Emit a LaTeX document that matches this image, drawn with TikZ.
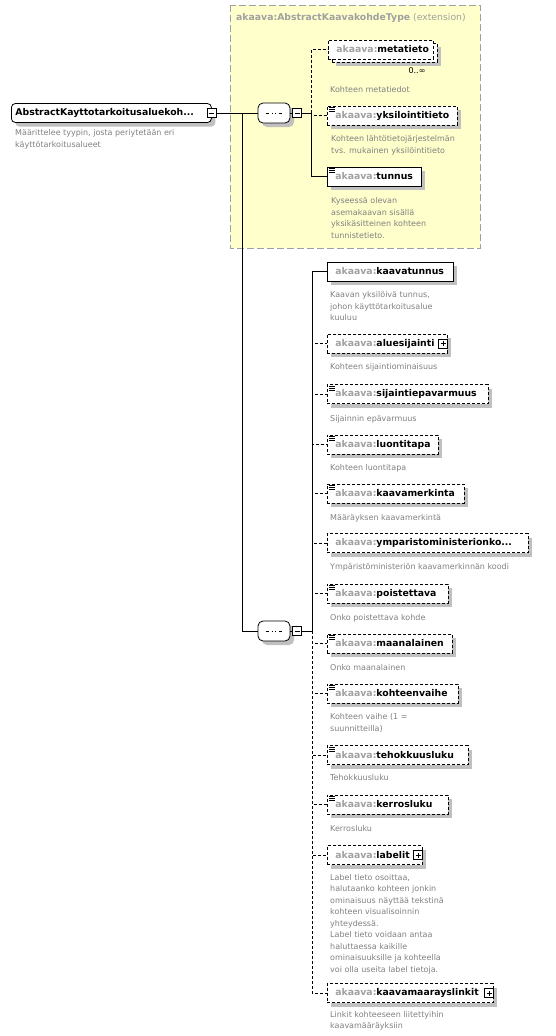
\documentclass[tikz,border=0pt]{standalone}
\usepackage{fontspec}
\setmainfont{DejaVu Sans}
\usetikzlibrary{shadows}
\definecolor{extfill}{HTML}{FFFFCC}
\definecolor{extline}{HTML}{A0A0A0}
\definecolor{pfxgray}{HTML}{A0A0A0}
\definecolor{descgray}{HTML}{808080}
\definecolor{shadowgray}{HTML}{C0C0C0}
\newcommand{\ak}[1]{\mbox{\textcolor{pfxgray}{akaava:}#1}}

\begin{document}
\begin{tikzpicture}[x=1pt,y=-1pt,
  link/.style={line width=.8pt},
  opt/.style={dash pattern=on 3pt off 2pt},
  elem/.style={draw,line width=.8pt,fill=white,anchor=west,minimum height=19pt,
    inner xsep=8pt,inner ysep=0pt,align=left,font=\bfseries\fontsize{9.3}{11}\selectfont},
  shadowed/.style={drop shadow={shadow xshift=4pt,shadow yshift=-4pt,fill=shadowgray,opacity=1}},
  simple/.style={path picture={\foreach \k in {1.5,3.5,5.5}
    \draw[solid,line width=.6pt] ([shift={(2pt,-\k pt)}]path picture bounding box.north west) -- ++(6pt,0pt);}},
  pmbox/.style={draw,solid,fill=white,line width=.8pt,minimum size=9pt,inner sep=0pt},
  minus/.style={path picture={\draw[line width=.8pt] ([xshift=2pt]path picture bounding box.west) -- ([xshift=-2pt]path picture bounding box.east);}},
  plus/.style={path picture={\draw[line width=.8pt] ([xshift=2pt]path picture bounding box.west) -- ([xshift=-2pt]path picture bounding box.east)
    ([yshift=2pt]path picture bounding box.south) -- ([yshift=-2pt]path picture bounding box.north);}},
  seqbox/.style={draw,fill=white,line width=.8pt,rounded corners=5pt,minimum width=32pt,minimum height=20pt,inner sep=0pt,shadowed,
    path picture={\draw[sharp corners,line width=1pt] ([xshift=-8pt]path picture bounding box.center) -- ([xshift=8pt]path picture bounding box.center);
      \foreach \dx in {-3.5,0,3.5} \fill[sharp corners] ([xshift=\dx pt]path picture bounding box.center) +(-1.4pt,-1.3pt) rectangle +(1.4pt,1.3pt);}},
  desc/.style={anchor=north west,inner sep=0pt,align=left,text=descgray,font=\fontsize{8}{11.5}\selectfont}
]
\useasboundingbox (0,0) rectangle (556,1036);

% extension frame
\draw[extline,fill=extfill,line width=.8pt,dash pattern=on 7pt off 3pt] (230,5) rectangle (480,248);
\node[anchor=west,inner sep=0pt,text=pfxgray,font=\fontsize{9.3}{11}\selectfont] (exttitle) at (236,18)
  {\textbf{akaava:AbstractKaavakohdeType} (extension)};

% root and sequences
\node[elem,shadowed,rounded corners=4pt,inner xsep=4pt,text width=192pt] (root) at (11,113) {\mbox{AbstractKayttotarkoitusaluekoh...}};
\node[pmbox,minus] (rootpm) at (root.east) {};
\node[desc] (d-root) at (15,129.7) {Määrittelee tyypin, josta periytetään eri\\käyttötarkoitusalueet};

\node[seqbox] (seq1) at (274,113) {};
\node[pmbox,minus,anchor=west] (seq1pm) at ([xshift=2pt]seq1.east) {};
\node[seqbox] (seq2) at (274,631) {};
\node[pmbox,minus,anchor=west] (seq2pm) at ([xshift=2pt]seq2.east) {};

\coordinate (trunk) at (242,113);
\coordinate (br1) at (311,113);
\coordinate (br2) at (312,631);

% inherited elements
\node[elem,opt,shadowed,text width=89pt] (metaback) at (332,52.5) {};
\node[elem,opt,text width=89pt] (metatieto) at (328,49.5) {\ak{metatieto}};
\node[inner sep=0pt,font=\fontsize{8}{10}\selectfont] (meta-occ) at (417,71) {0..∞};
\node[desc] (d-metatieto) at (330,86.7) {Kohteen metatiedot};

\node[elem,opt,shadowed,simple,text width=114pt] (yksilointitieto) at (327,115.5) {\ak{yksilointitieto}};
\node[desc] (d-yksilointitieto) at (331,135.7) {Kohteen lähtötietojärjestelmän\\ tvs. mukainen yksilöintitieto};

\node[elem,shadowed,simple,text width=78pt] (tunnus) at (327,176.5) {\ak{tunnus}};
\node[desc] (d-tunnus) at (331,197.7) {Kyseessä olevan\\asemakaavan sisällä\\yksikäsitteinen kohteen\\tunnistetieto.};

% own elements
\node[elem,shadowed,text width=110pt] (kaavatunnus) at (327,271.5) {\ak{kaavatunnus}};
\node[desc] (d-kaavatunnus) at (330,291.7) {Kaavan yksilöivä tunnus,\\johon käyttötarkoitusalue\\kuuluu};

\node[elem,opt,shadowed,text width=104pt] (aluesijainti) at (327,343.5) {\ak{aluesijainti}};
\node[pmbox,plus] (aluesijainti-pm) at ([xshift=-4.5pt]aluesijainti.east) {};
\node[desc] (d-aluesijainti) at (330,363.7) {Kohteen sijaintiominaisuus};

\node[elem,opt,shadowed,simple,text width=145pt] (sijaintiepavarmuus) at (327,394) {\ak{sijaintiepavarmuus}};
\node[desc] (d-sijaintiepavarmuus) at (330,415.7) {Sijainnin epävarmuus};

\node[elem,opt,shadowed,simple,text width=95pt] (luontitapa) at (327,444.5) {\ak{luontitapa}};
\node[desc] (d-luontitapa) at (330,464.7) {Kohteen luontitapa};

\node[elem,opt,shadowed,simple,text width=121pt] (kaavamerkinta) at (327,493.5) {\ak{kaavamerkinta}};
\node[desc] (d-kaavamerkinta) at (330,514.7) {Määräyksen kaavamerkintä};

\node[elem,opt,shadowed,text width=185pt] (ymparistoministerionkoodi) at (327,543) {\ak{ymparistoministerionko...}};
\node[desc] (d-ymparistoministerionkoodi) at (330,563.7) {Ympäristöministeriön kaavamerkinnän koodi};

\node[elem,opt,shadowed,simple,text width=105pt] (poistettava) at (327,593.5) {\ak{poistettava}};
\node[desc] (d-poistettava) at (330,614.7) {Onko poistettava kohde};

\node[elem,opt,shadowed,simple,text width=109pt] (maanalainen) at (327,643.5) {\ak{maanalainen}};
\node[desc] (d-maanalainen) at (330,664.7) {Onko maanalainen};

\node[elem,opt,shadowed,simple,text width=115pt] (kohteenvaihe) at (327,693.5) {\ak{kohteenvaihe}};
\node[desc] (d-kohteenvaihe) at (330,713.7) {Kohteen vaihe (1 =\\suunnitteilla)};

\node[elem,opt,shadowed,simple,text width=125pt] (tehokkuusluku) at (327,755) {\ak{tehokkuusluku}};
\node[desc] (d-tehokkuusluku) at (330,774.7) {Tehokkuusluku};

\node[elem,opt,shadowed,simple,text width=105pt] (kerrosluku) at (327,804.5) {\ak{kerrosluku}};
\node[desc] (d-kerrosluku) at (330,825.7) {Kerrosluku};

\node[elem,opt,shadowed,text width=79pt] (labelit) at (327,855) {\ak{labelit}};
\node[pmbox,plus] (labelit-pm) at ([xshift=-4.5pt]labelit.east) {};
\node[desc] (d-labelit) at (330,874.2) {Label tieto osoittaa,\\halutaanko kohteen jonkin\\ominaisuus näyttää tekstinä\\kohteen visualisoinnin\\yhteydessä.\\Label tieto voidaan antaa\\haluttaessa kaikille\\ominaisuuksille ja kohteella\\voi olla useita label tietoja.};

\node[elem,opt,shadowed,text width=150pt] (kaavamaarayslinkit) at (327,993) {\ak{kaavamaarayslinkit}};
\node[pmbox,plus] (kaavamaarayslinkit-pm) at ([xshift=-4.5pt]kaavamaarayslinkit.east) {};
\node[desc] (d-kaavamaarayslinkit) at (330,1011.2) {Linkit kohteeseen liitettyihin\\kaavamääräyksiin};

% connectors
\draw[link] (rootpm.east) -- (seq1.west);
\draw[link] (trunk) |- (seq2.west);
\draw[link] (seq1.east) -- (seq1pm.west);
\draw[link] (seq1pm.east) -- (br1);
\draw[link,opt] (br1) |- (metatieto.west);
\draw[link,opt] (br1) |- (yksilointitieto.west);
\draw[link] (br1) |- (tunnus.west);
\draw[link] (seq2.east) -- (seq2pm.west);
\draw[link] (seq2pm.east) -- (br2);
\draw[link] (br2) |- (kaavatunnus.west);
\foreach \n in {aluesijainti,sijaintiepavarmuus,luontitapa,kaavamerkinta,ymparistoministerionkoodi,poistettava,
  maanalainen,kohteenvaihe,tehokkuusluku,kerrosluku,labelit,kaavamaarayslinkit}
  \draw[link,opt] (br2) |- (\n.west);
\end{tikzpicture}
\end{document}
